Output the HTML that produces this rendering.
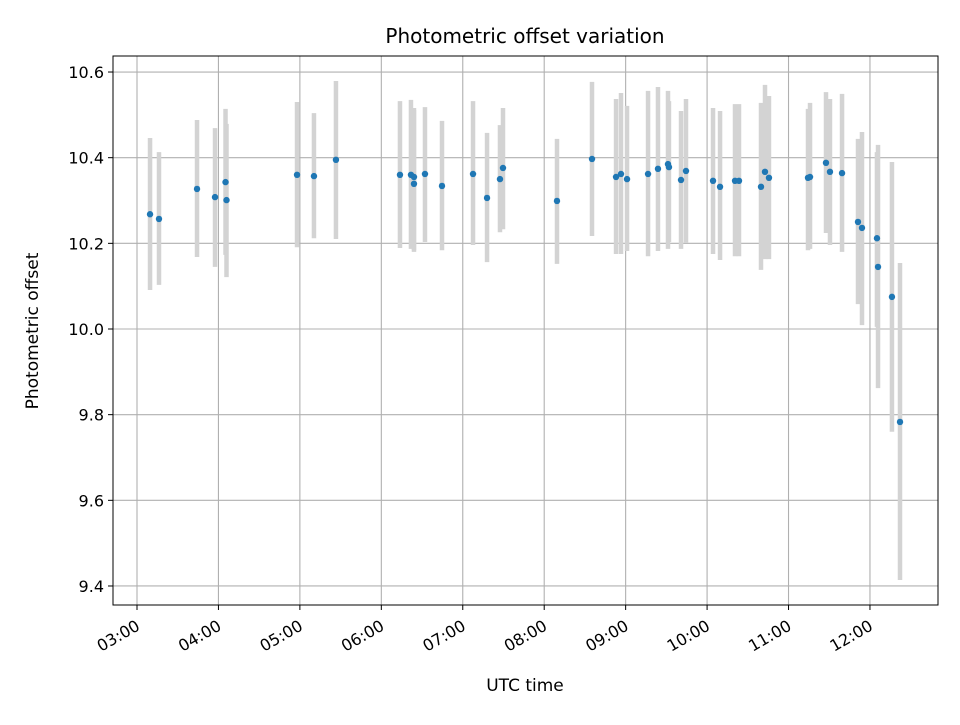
<!DOCTYPE html>
<html><head><meta charset="utf-8"><style>
body{margin:0;background:#fff;font-family:"Liberation Sans","DejaVu Sans",sans-serif}
</style></head><body>
<svg id="chart" width="960" height="720" xmlns="http://www.w3.org/2000/svg" font-family="'DejaVu Sans','Liberation Sans',sans-serif">
<rect width="960" height="720" fill="#fff"/>
<g id="grid"></g><g id="bars"></g><g id="dots"></g><g id="axes"></g>
<text x="525" y="43" text-anchor="middle" font-size="20">Photometric offset variation</text>
<text x="525" y="691" text-anchor="middle" font-size="17">UTC time</text>
<text transform="translate(38,331) rotate(-90)" text-anchor="middle" font-size="17">Photometric offset</text>
</svg>
<script>
const times=[3.160,3.270,3.737,3.958,4.087,4.099,4.965,5.173,5.443,6.229,6.364,6.401,6.401,6.536,6.745,7.126,7.298,7.457,7.494,8.157,8.587,8.882,8.943,9.017,9.275,9.397,9.520,9.532,9.680,9.741,10.073,10.159,10.343,10.392,10.662,10.711,10.760,11.239,11.264,11.460,11.509,11.657,11.853,11.902,12.086,12.099,12.270,12.369];
const values=[10.268,10.257,10.327,10.308,10.343,10.301,10.360,10.357,10.395,10.360,10.360,10.355,10.339,10.362,10.334,10.362,10.306,10.350,10.376,10.299,10.397,10.355,10.362,10.350,10.362,10.374,10.385,10.378,10.348,10.369,10.346,10.332,10.346,10.346,10.332,10.367,10.353,10.353,10.355,10.388,10.367,10.364,10.250,10.236,10.212,10.145,10.075,9.783];
const upper=[10.446,10.413,10.488,10.469,10.514,10.479,10.530,10.504,10.579,10.532,10.535,10.511,10.516,10.518,10.486,10.532,10.458,10.476,10.516,10.444,10.577,10.537,10.551,10.521,10.556,10.565,10.556,10.532,10.509,10.537,10.516,10.509,10.525,10.525,10.528,10.570,10.544,10.514,10.528,10.553,10.537,10.549,10.444,10.460,10.413,10.430,10.390,10.154];
const lower=[10.091,10.103,10.168,10.145,10.173,10.121,10.191,10.212,10.210,10.189,10.187,10.180,10.184,10.203,10.184,10.196,10.156,10.226,10.233,10.152,10.217,10.175,10.175,10.182,10.170,10.182,10.187,10.203,10.187,10.201,10.175,10.161,10.170,10.170,10.138,10.163,10.163,10.184,10.187,10.224,10.196,10.180,10.058,10.009,10.005,9.862,9.760,9.414];
const yTicks=[9.4,9.6,9.8,10.0,10.2,10.4,10.6];
const xTicks=[3,4,5,6,7,8,9,10,11,12];
const xTickLabels=["03:00","04:00","05:00","06:00","07:00","08:00","09:00","10:00","11:00","12:00"];
const L=113,R=938,T=56,B=605;
const x0=2.7053,x1=12.8354,y0=9.3556,y1=10.6374;
const sx=h=>L+(h-x0)/(x1-x0)*(R-L);
const sy=v=>B-(v-y0)/(y1-y0)*(B-T);
const NS="http://www.w3.org/2000/svg";
function mk(tag,attrs,parent){const e=document.createElementNS(NS,tag);for(const k in attrs)e.setAttribute(k,attrs[k]);parent.appendChild(e);return e;}
const grid=document.getElementById('grid'),bars=document.getElementById('bars'),dots=document.getElementById('dots'),axes=document.getElementById('axes');
yTicks.forEach(t=>{const y=sy(t);
 const g=mk('line',{x1:L,x2:R,y1:y,y2:y,stroke:'#b0b0b0','stroke-width':1.1},grid);
 
 
 mk('line',{x1:L-5,x2:L,y1:y,y2:y,stroke:'#000','stroke-width':1},axes);
 const tx=mk('text',{x:L-9,y:y+6,'text-anchor':'end','font-size':16},axes);
 tx.textContent=t.toFixed(1);
 
 
});
xTicks.forEach((t,i)=>{const x=sx(t);
 const g=mk('line',{x1:x,x2:x,y1:T,y2:B,stroke:'#b0b0b0','stroke-width':1.1},grid);
 
 
 mk('line',{x1:x,x2:x,y1:B,y2:B+5,stroke:'#000','stroke-width':1},axes);
 const tx=mk('text',{transform:`translate(${x+4},${B+24}) rotate(-30)`,'text-anchor':'end','font-size':16},axes);
 tx.textContent=xTickLabels[i];
 
 
});
times.forEach((h,i)=>{const x=sx(h);
 const b=mk('line',{x1:x,x2:x,y1:sy(upper[i]),y2:sy(lower[i]),stroke:'#d3d3d3','stroke-width':4.5},bars);
 
 
 const c=mk('circle',{cx:x,cy:sy(values[i]),r:3.2,fill:'#1f77b4'},dots);
 
 
});
const fr=mk('rect',{x:L,y:T,width:R-L,height:B-T,fill:'none',stroke:'#000','stroke-width':1},axes);


</script>
</body></html>
